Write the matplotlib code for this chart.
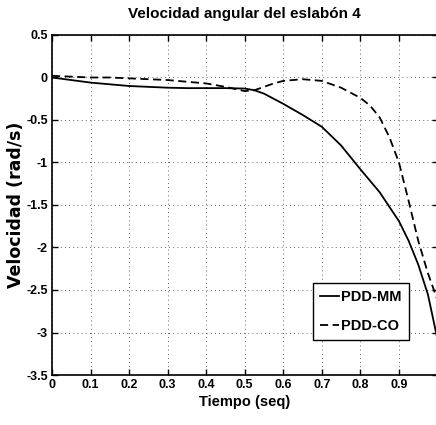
import matplotlib
matplotlib.use("Agg")
import matplotlib.pyplot as plt

# Data
t_mm = [0, 0.05, 0.1, 0.15, 0.2, 0.25, 0.3, 0.35, 0.4, 0.45, 0.5, 0.525, 0.55,
        0.575, 0.6, 0.65, 0.7, 0.75, 0.8, 0.85, 0.9, 0.925, 0.95, 0.975, 1.0]
v_mm = [0, -0.03, -0.06, -0.08, -0.10, -0.11, -0.12, -0.125, -0.125, -0.125, -0.13,
        -0.15, -0.19, -0.25, -0.31, -0.44, -0.58, -0.80, -1.08, -1.35, -1.69, -1.92,
        -2.2, -2.55, -3.08]

t_co = [0, 0.05, 0.1, 0.15, 0.2, 0.25, 0.3, 0.35, 0.4, 0.45, 0.5, 0.525, 0.55,
        0.575, 0.6, 0.65, 0.7, 0.75, 0.8, 0.825, 0.85, 0.875, 0.9, 0.925, 0.95,
        0.975, 1.0]
v_co = [0.02, 0.01, 0.0, 0.0, -0.01, -0.02, -0.03, -0.05, -0.07, -0.11, -0.16,
        -0.15, -0.11, -0.07, -0.04, -0.02, -0.04, -0.12, -0.24, -0.33, -0.47, -0.7,
        -1.0, -1.45, -1.92, -2.3, -2.62]

series_labels = ["PDD-MM", "PDD-CO"]
x_ticks = [0, 0.1, 0.2, 0.3, 0.4, 0.5, 0.6, 0.7, 0.8, 0.9]
x_tick_labels = ["0", "0.1", "0.2", "0.3", "0.4", "0.5", "0.6", "0.7", "0.8", "0.9"]
y_ticks = [0.5, 0, -0.5, -1, -1.5, -2, -2.5, -3, -3.5]
y_tick_labels = ["0.5", "0", "-0.5", "-1", "-1.5", "-2", "-2.5", "-3", "-3.5"]

narrow = ["Liberation Sans", "DejaVu Sans"]

fig = plt.figure(figsize=(4.36, 4.25), dpi=100)
ax = fig.add_axes([52 / 436, 50 / 425, 385.5 / 436, 340 / 425])

ax.plot(t_mm, v_mm, color="black", linewidth=1.3, linestyle="-", label=series_labels[0])
ax.plot(t_co, v_co, color="black", linewidth=1.3, linestyle=(0, (4.5, 2.5)), label=series_labels[1])

ax.set_xlim(0, 1)
ax.set_ylim(-3.5, 0.5)
ax.set_xticks(x_ticks)
ax.set_xticklabels(x_tick_labels, family=narrow, fontweight="bold", fontsize=9)
ax.set_yticks(y_ticks)
ax.set_yticklabels(y_tick_labels, family=narrow, fontweight="bold", fontsize=9)
ax.tick_params(direction="in", length=4, width=1, top=True, right=True, pad=3)
ax.grid(True, linestyle=(0, (1, 4)), color="black", linewidth=0.6, alpha=0.8)
for s in ax.spines.values():
    s.set_linewidth(1.2)

ax.set_title("Velocidad angular del eslabón 4", family=narrow, fontweight="bold",
             fontsize=11, pad=12)
ax.set_xlabel("Tiempo (seq)", family=narrow, fontweight="bold", fontsize=10.5, labelpad=3)
ax.set_ylabel("Velocidad (rad/s)", family=["DejaVu Sans"], fontweight="bold",
              fontsize=12.5)
ax.yaxis.set_label_coords((25 - 52) / 385.5, 0.5)

leg = ax.legend(loc="lower left", bbox_to_anchor=((313 - 52) / 385.5, (375 - 340) / 340),
                frameon=True, fancybox=False, edgecolor="black", framealpha=1,
                prop={"family": narrow, "weight": "bold", "size": 10.5},
                handlelength=1.3, handletextpad=0.15, borderpad=0.5, labelspacing=1.0,
                borderaxespad=0)
leg.get_frame().set_linewidth(1.0)

fig.savefig("out.png", dpi=100)
